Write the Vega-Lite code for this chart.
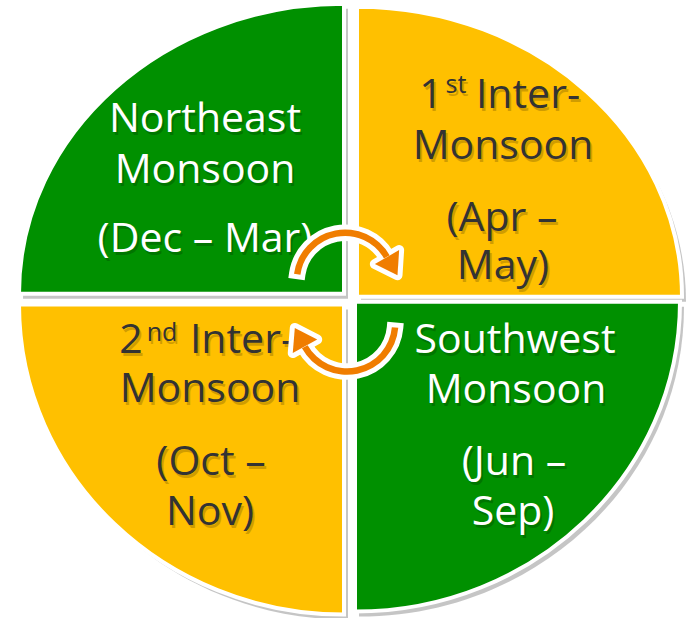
{
  "$schema": "https://vega.github.io/schema/vega-lite/v6.json",
  "width": 692,
  "height": 618,
  "padding": 0,
  "autosize": {"type": "fit", "contains": "padding"},
  "background": "white",
  "config": {"view": {"stroke": null}},
  "datasets": {
    "quads": [
      {"quadrant": "NW", "cx": 344, "cy": 292, "season": "monsoon"},
      {"quadrant": "NE", "cx": 357, "cy": 295, "season": "inter"},
      {"quadrant": "SW", "cx": 344, "cy": 303, "season": "inter"},
      {"quadrant": "SE", "cx": 355, "cy": 300, "season": "monsoon"}
    ],
    "arrows": [
      {"arrow": "to 1st Inter-Monsoon", "cx": 345, "cy": 279, "t0": -82, "t1": 60, "hx": 387.0, "hy": 254.8, "hangle": 150},
      {"arrow": "to 2nd Inter-Monsoon", "cx": 347, "cy": 322, "t0": 95, "t1": 241, "hx": 305.0, "hy": 345.3, "hangle": 331}
    ],
    "labels": [
      {"text": "Northeast", "x": 205, "y": 128, "role": "main", "season": "monsoon"},
      {"text": "Monsoon", "x": 205, "y": 180, "role": "main", "season": "monsoon"},
      {"text": "(Dec – Mar)", "x": 205, "y": 250, "role": "main", "season": "monsoon"},
      {"text": "1", "x": 431, "y": 103, "role": "main", "season": "inter"},
      {"text": "st", "x": 456, "y": 88, "role": "sup", "season": "inter"},
      {"text": "Inter-", "x": 528, "y": 103, "role": "main", "season": "inter"},
      {"text": "Monsoon", "x": 503, "y": 155, "role": "main", "season": "inter"},
      {"text": "(Apr –", "x": 502, "y": 228, "role": "main", "season": "inter"},
      {"text": "May)", "x": 503, "y": 277, "role": "main", "season": "inter"},
      {"text": "2", "x": 131, "y": 352, "role": "main", "season": "inter"},
      {"text": "nd", "x": 162, "y": 340, "role": "sup", "season": "inter"},
      {"text": "Inter-", "x": 242, "y": 352, "role": "main", "season": "inter"},
      {"text": "Monsoon", "x": 210, "y": 402, "role": "main", "season": "inter"},
      {"text": "(Oct –", "x": 211, "y": 476, "role": "main", "season": "inter"},
      {"text": "Nov)", "x": 210, "y": 527, "role": "main", "season": "inter"},
      {"text": "Southwest", "x": 515, "y": 352, "role": "main", "season": "monsoon"},
      {"text": "Monsoon", "x": 516, "y": 403, "role": "main", "season": "monsoon"},
      {"text": "(Jun –", "x": 514, "y": 476, "role": "main", "season": "monsoon"},
      {"text": "Sep)", "x": 513, "y": 527, "role": "main", "season": "monsoon"}
    ]
  },
  "layer": [
    {
      "data": {"name": "quads"},
      "mark": {"type": "point", "filled": true, "size": 422500, "color": "#6e6e6e", "opacity": 0.4, "xOffset": 4, "yOffset": 5},
      "encoding": {
        "x": {"field": "cx", "type": "quantitative", "scale": {"domain": [0, 692], "nice": false, "zero": false}, "axis": null},
        "y": {"field": "cy", "type": "quantitative", "scale": {"domain": [0, 618], "nice": false, "zero": false, "reverse": true}, "axis": null},
        "shape": {"field": "quadrant", "type": "nominal", "legend": null,
          "scale": {"domain": ["NW", "NE", "SW", "SE"], "range": [
            "M0,0L-1,0C-1,-0.4928,-0.5523,-0.8923,0,-0.8923Z",
            "M0,0L1,0C1,-0.4928,0.5523,-0.8923,0,-0.8923Z",
            "M0,0L-1,0C-1,0.5268,-0.5523,0.9538,0,0.9538Z",
            "M0,0L1,0C1,0.5268,0.5523,0.9538,0,0.9538Z"]}}
      }
    },
    {
      "data": {"name": "quads"},
      "mark": {"type": "point", "filled": true, "size": 422500, "opacity": 1, "stroke": "white", "strokeWidth": 4, "strokeOpacity": 1},
      "encoding": {
        "x": {"field": "cx", "type": "quantitative", "scale": {"domain": [0, 692], "nice": false, "zero": false}, "axis": null},
        "y": {"field": "cy", "type": "quantitative", "scale": {"domain": [0, 618], "nice": false, "zero": false, "reverse": true}, "axis": null},
        "shape": {"field": "quadrant", "type": "nominal", "legend": null,
          "scale": {"domain": ["NW", "NE", "SW", "SE"], "range": [
            "M0,0L-1,0C-1,-0.4928,-0.5523,-0.8923,0,-0.8923Z",
            "M0,0L1,0C1,-0.4928,0.5523,-0.8923,0,-0.8923Z",
            "M0,0L-1,0C-1,0.5268,-0.5523,0.9538,0,0.9538Z",
            "M0,0L1,0C1,0.5268,0.5523,0.9538,0,0.9538Z"]}},
        "color": {"field": "season", "type": "nominal", "legend": null,
          "scale": {"domain": ["monsoon", "inter"], "range": ["#009000", "#FFC000"]}}
      }
    },
    {
      "data": {"name": "labels"},
      "mark": {"type": "text", "font": "Open Sans", "align": "center", "baseline": "alphabetic", "dx": 2, "dy": 3, "color": "#000000", "opacity": 0.18},
      "encoding": {
        "x": {"field": "x", "type": "quantitative", "scale": {"domain": [0, 692], "nice": false, "zero": false}, "axis": null},
        "y": {"field": "y", "type": "quantitative", "scale": {"domain": [0, 618], "nice": false, "zero": false, "reverse": true}, "axis": null},
        "text": {"field": "text"},
        "size": {"field": "role", "type": "ordinal", "legend": null, "scale": {"domain": ["main", "sup"], "range": [41, 25]}}
      }
    },
    {
      "data": {"name": "labels"},
      "mark": {"type": "text", "font": "Open Sans", "align": "center", "baseline": "alphabetic"},
      "encoding": {
        "x": {"field": "x", "type": "quantitative", "scale": {"domain": [0, 692], "nice": false, "zero": false}, "axis": null},
        "y": {"field": "y", "type": "quantitative", "scale": {"domain": [0, 618], "nice": false, "zero": false, "reverse": true}, "axis": null},
        "text": {"field": "text"},
        "size": {"field": "role", "type": "ordinal", "legend": null, "scale": {"domain": ["main", "sup"], "range": [41, 25]}},
        "color": {"field": "season", "type": "nominal", "legend": null,
          "scale": {"domain": ["monsoon", "inter"], "range": ["#FFFFFF", "#333333"]}}
      }
    },
    {
      "data": {"name": "arrows"},
      "mark": {"type": "arc", "radius": 51.5, "radius2": 45, "fill": "white", "stroke": "white", "strokeWidth": 10},
      "encoding": {
        "x": {"field": "cx", "type": "quantitative", "scale": {"domain": [0, 692], "nice": false, "zero": false}, "axis": null},
        "y": {"field": "cy", "type": "quantitative", "scale": {"domain": [0, 618], "nice": false, "zero": false, "reverse": true}, "axis": null},
        "theta": {"field": "t0", "type": "quantitative", "stack": null, "scale": {"domain": [0, 360], "range": [0, 6.2831853], "zero": false, "nice": false}},
        "theta2": {"field": "t1"}
      }
    },
    {
      "data": {"name": "arrows"},
      "mark": {"type": "point", "filled": true, "size": 784, "shape": "M-1,0L0,-1.5L1,0Z", "color": "white", "stroke": "white", "strokeWidth": 10, "strokeJoin": "round", "opacity": 1},
      "encoding": {
        "x": {"field": "hx", "type": "quantitative", "scale": {"domain": [0, 692], "nice": false, "zero": false}, "axis": null},
        "y": {"field": "hy", "type": "quantitative", "scale": {"domain": [0, 618], "nice": false, "zero": false, "reverse": true}, "axis": null},
        "angle": {"field": "hangle", "type": "quantitative", "scale": null}
      }
    },
    {
      "data": {"name": "arrows"},
      "mark": {"type": "arc", "radius": 51.5, "radius2": 45, "fill": "#F07D00"},
      "encoding": {
        "x": {"field": "cx", "type": "quantitative", "scale": {"domain": [0, 692], "nice": false, "zero": false}, "axis": null},
        "y": {"field": "cy", "type": "quantitative", "scale": {"domain": [0, 618], "nice": false, "zero": false, "reverse": true}, "axis": null},
        "theta": {"field": "t0", "type": "quantitative", "stack": null, "scale": {"domain": [0, 360], "range": [0, 6.2831853], "zero": false, "nice": false}},
        "theta2": {"field": "t1"}
      }
    },
    {
      "data": {"name": "arrows"},
      "mark": {"type": "point", "filled": true, "size": 784, "shape": "M-1,0L0,-1.5L1,0Z", "color": "#F07D00", "opacity": 1},
      "encoding": {
        "x": {"field": "hx", "type": "quantitative", "scale": {"domain": [0, 692], "nice": false, "zero": false}, "axis": null},
        "y": {"field": "hy", "type": "quantitative", "scale": {"domain": [0, 618], "nice": false, "zero": false, "reverse": true}, "axis": null},
        "angle": {"field": "hangle", "type": "quantitative", "scale": null}
      }
    }
  ],
  "resolve": {"scale": {"color": "independent", "size": "independent"}}
}
